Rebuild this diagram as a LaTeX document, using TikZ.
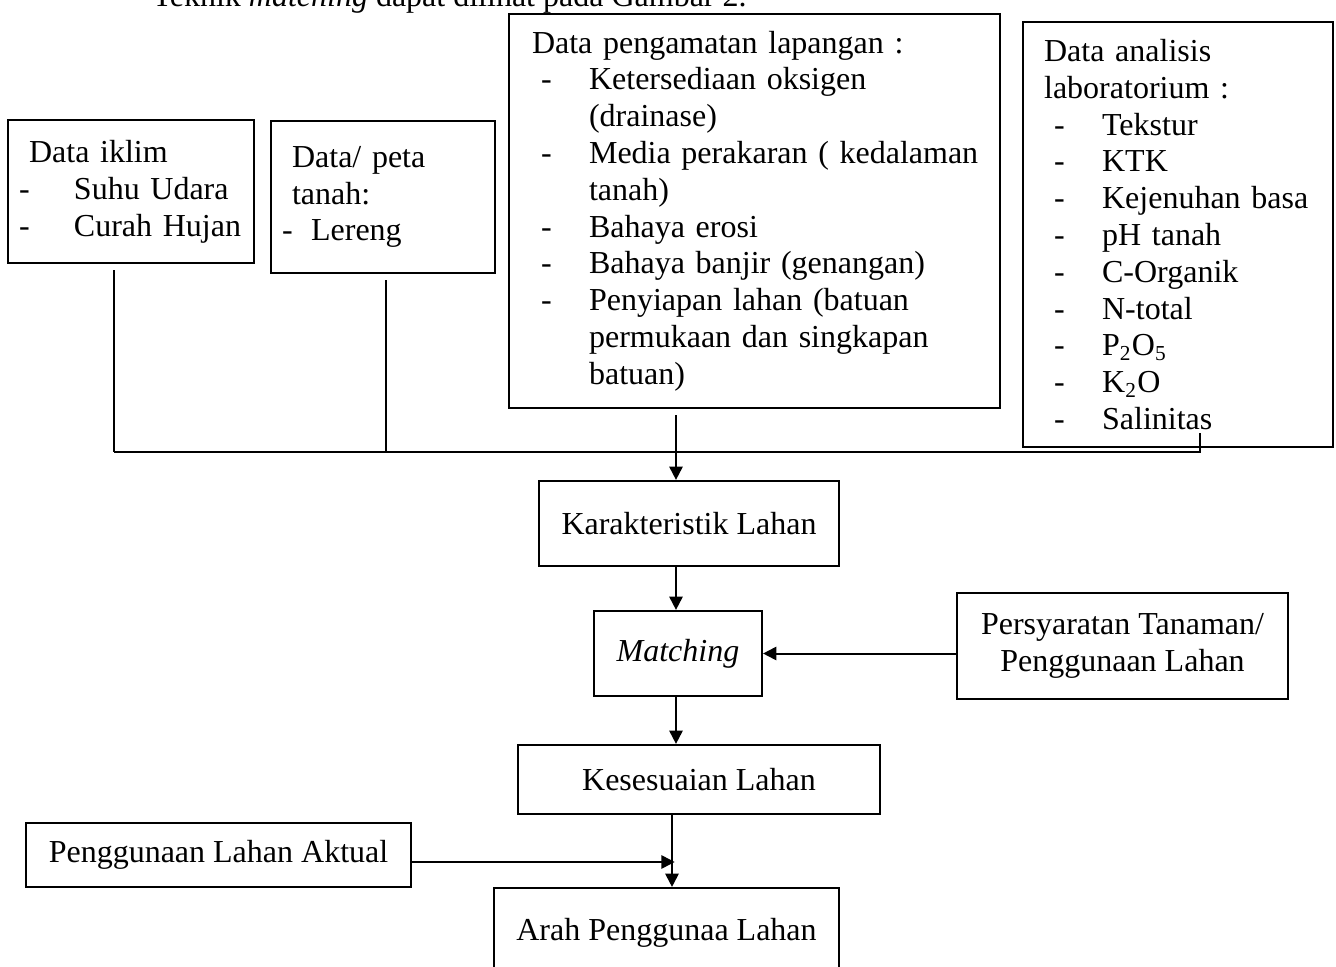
\documentclass[tikz,border=0pt]{standalone}
\usepackage{fontspec}
\setmainfont{Liberation Serif}
\usetikzlibrary{arrows.meta}
\newcommand{\li}[3]{\hspace*{#1}\makebox[\dimexpr#2-#1\relax][l]{-}\mbox{#3}}
\newcommand{\lc}[2]{\hspace*{#1}\mbox{#2}}

\begin{document}
\begin{tikzpicture}[x=0.375pt,y=-0.375pt,
  box/.style={draw,line width=0.8pt,inner sep=0pt,align=center,font=\fontsize{12}{13.8}\selectfont},
  listbox/.style={box,anchor=north west,align=left},
  conn/.style={line width=0.75pt},
  arr/.style={conn,-{Triangle[length=5pt,width=5pt]}}]
\useasboundingbox (0,0) rectangle (1336,967);
\node[anchor=base west,inner sep=0pt,font=\fontsize{12}{13.8}\selectfont] (intro) at (152,7) {Teknik \textit{matching} dapat dilihat pada Gambar 2.};
% data sources
\node[listbox,text width=84pt,inner xsep=4.125pt,minimum height=53.6pt] (iklim) at (7,119)
  {\lc{3.75pt}{Data iklim}\\ \li{0pt}{20.6pt}{Suhu Udara}\\ \li{0pt}{20.6pt}{Curah Hujan}};
\node[listbox,text width=75.75pt,inner xsep=4.125pt,minimum height=57pt] (peta) at (270,120)
  {\lc{3.75pt}{Data/ peta}\\ \lc{3.75pt}{tanah:}\\ \li{0pt}{10.9pt}{Lereng}};
\node[listbox,text width=166.9pt,inner xsep=8.6pt,minimum height=147.75pt] (amat) at (508,13)
  {Data pengamatan lapangan :\\
   \li{3.4pt}{21.4pt}{Ketersediaan oksigen}\\ \lc{21.4pt}{(drainase)}\\
   \li{3.4pt}{21.4pt}{Media perakaran ( kedalaman}\\ \lc{21.4pt}{tanah)}\\
   \li{3.4pt}{21.4pt}{Bahaya erosi}\\
   \li{3.4pt}{21.4pt}{Bahaya banjir (genangan)}\\
   \li{3.4pt}{21.4pt}{Penyiapan lahan (batuan}\\ \lc{21.4pt}{permukaan dan singkapan}\\ \lc{21.4pt}{batuan)}};
\node[listbox,text width=100.5pt,inner xsep=7.9pt,minimum height=159.4pt] (lab) at (1022,21)
  {Data analisis\\ laboratorium :\\
   \li{3.75pt}{21.75pt}{Tekstur}\\ \li{3.75pt}{21.75pt}{KTK}\\
   \li{3.75pt}{21.75pt}{Kejenuhan basa}\\ \li{3.75pt}{21.75pt}{pH tanah}\\
   \li{3.75pt}{21.75pt}{C-Organik}\\ \li{3.75pt}{21.75pt}{N-total}\\
   \li{3.75pt}{21.75pt}{P\textsubscript{2}O\textsubscript{5}}\\ \li{3.75pt}{21.75pt}{K\textsubscript{2}O}\\
   \li{3.75pt}{21.75pt}{Salinitas}};
% main flow
\node[box,minimum width=112.5pt,minimum height=31.9pt] (karak) at (689,523.5) {Karakteristik Lahan};
\node[box,minimum width=63pt,minimum height=31.9pt] (match) at (678,653.5) {\textit{Matching}};
\node[box,minimum width=124.1pt,minimum height=39.75pt] (syarat) at (1122.5,646) {Persyaratan Tanaman/\\Penggunaan Lahan};
\node[box,minimum width=135.75pt,minimum height=25.9pt] (sesuai) at (699,779.5) {Kesesuaian Lahan};
\node[box,minimum width=144.4pt,minimum height=24pt] (aktual) at (218.5,855) {Penggunaan Lahan Aktual};
\node[box,minimum width=129.4pt,minimum height=33.75pt] (arah) at (666.5,933) {Arah Penggunaa Lahan};
% collecting line
\coordinate (busW) at (114,452);
\coordinate (busP) at (386,452);
\coordinate (hub) at (676,452);
\coordinate (busE) at (1200,452);
\coordinate (labEnd) at (1200,433);
\coordinate (hub2) at (672,862);
\draw[conn,shorten <=2.25pt] (iklim.south -| busW) -- (busW);
\draw[conn,shorten <=2.25pt] (peta.south -| busP) -- (busP);
\draw[conn] (busW) -- (busE) -- (labEnd);
\draw[arr,shorten <=2.25pt] (amat.south -| hub) -- (karak.north -| hub);
\draw[arr] (karak.south -| hub) -- (match.north -| hub);
\draw[arr] (syarat.west |- match.east) -- (match.east);
\draw[arr] (match.south -| hub) -- (sesuai.north -| hub);
\draw[arr] (sesuai.south -| hub2) -- (arah.north -| hub2);
\draw[arr] (aktual.east |- hub2) -- ([xshift=1pt]hub2);
\end{tikzpicture}
\end{document}
